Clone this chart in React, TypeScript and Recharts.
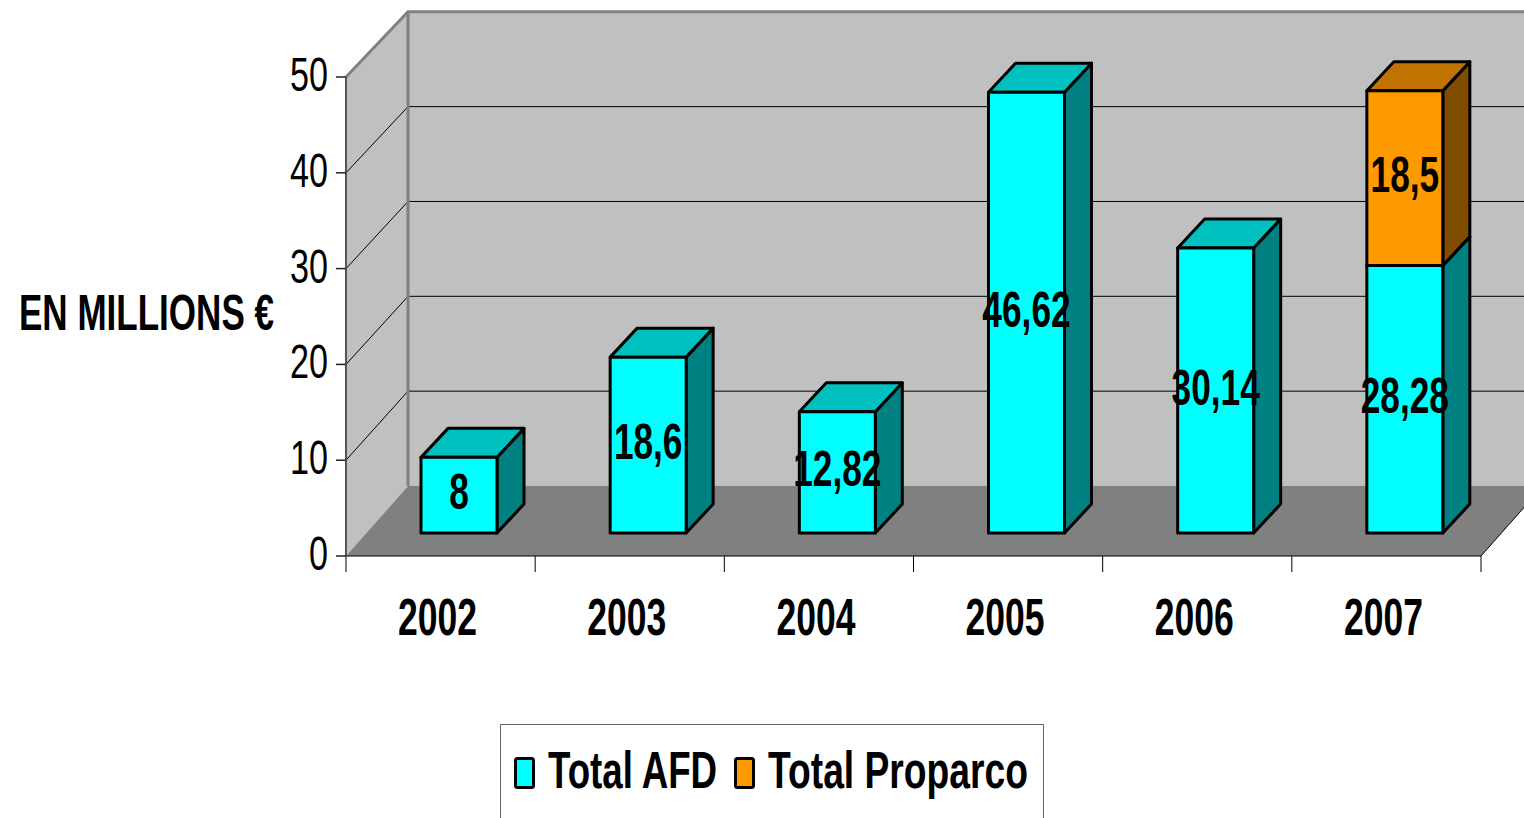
import React from 'react';
import { BarChart, Bar, XAxis, YAxis, Legend, LabelList } from 'recharts';

// values (millions of euros)
const years = ['2002', '2003', '2004', '2005', '2006', '2007'];
const totalAfd = [8, 18.6, 12.82, 46.62, 30.14, 28.28];
const totalProparco = [null, null, null, null, null, 18.5];
const yTicks = [0, 10, 20, 30, 40, 50];
const seriesNames = ['Total AFD', 'Total Proparco'];
const axisTitle = 'EN MILLIONS €';

const data = years.map((year, i) => ({ year, afd: totalAfd[i], proparco: totalProparco[i] }));

const W = 1524;
const H = 818;
const LEFT = 346;
const RIGHT = 1481;
const TOP = 77;
const BOTTOM = 556;
const Y_MAX = yTicks[yTicks.length - 1];

// fake 3D projection (wall depth + bar depth)
const WALL_DX = 62;
const WALL_DY = -70;
const WALL_SCALE = 0.99;
const BAR_DX = 18;
const BAR_DY = -23;
const BAR_SCALE = 0.987;
const DEPTH_DX = 27;
const DEPTH_DY = -29;

const FONT = "'Liberation Sans Narrow', 'Arial Narrow', 'Liberation Sans', Arial, sans-serif";

const COLORS = {
  afd: { front: '#00FFFF', top: '#00C0C0', side: '#008080' },
  proparco: { front: '#FF9900', top: '#C07300', side: '#7F4C00' },
};

const frontY = (v: number) => BOTTOM - (v / Y_MAX) * (BOTTOM - TOP);
const backY = (v: number) => BOTTOM + WALL_DY + (frontY(v) - BOTTOM) * WALL_SCALE;
const barY = (py: number) => BOTTOM + BAR_DY + (py - BOTTOM) * BAR_SCALE;

// narrow bold digits, forced via textLength
const numWidth = (s: string, digit: number) =>
  s.split('').reduce((w, c) => w + (c === ',' ? digit * 0.48 : digit), 0);

const fmt = (v: number) => String(v).replace('.', ',');

function make3DBar(colors: { front: string; top: string; side: string }) {
  return (props: any) => {
    const { x, y, width, height } = props;
    if (!height || height <= 0) return <g />;
    const x0 = x + BAR_DX;
    const x1 = x0 + width;
    const yt = barY(y);
    const yb = barY(y + height);
    const topPts = `${x0},${yt} ${x1},${yt} ${x1 + DEPTH_DX},${yt + DEPTH_DY} ${x0 + DEPTH_DX},${yt + DEPTH_DY}`;
    const sidePts = `${x1},${yt} ${x1 + DEPTH_DX},${yt + DEPTH_DY} ${x1 + DEPTH_DX},${yb + DEPTH_DY} ${x1},${yb}`;
    return (
      <g stroke="#000" strokeWidth={3} strokeLinejoin="round">
        <polygon points={sidePts} fill={colors.side} />
        <polygon points={topPts} fill={colors.top} />
        <rect x={x0} y={yt} width={width} height={yb - yt} fill={colors.front} />
      </g>
    );
  };
}

const ValueLabel = (props: any) => {
  const { x, y, width, height, value } = props;
  if (value == null || !height) return null;
  const yt = barY(y);
  const yb = barY(y + height);
  const s = fmt(value);
  return (
    <text
      x={x + BAR_DX + width / 2}
      y={(yt + yb) / 2 + 14}
      textAnchor="middle"
      fontFamily={FONT}
      fontWeight="bold"
      fontSize={50}
      fill="#000"
      textLength={numWidth(s, 19.7)}
      lengthAdjust="spacingAndGlyphs"
    >
      {s}
    </text>
  );
};

const YTick = (props: any) => {
  const { x, y, payload } = props;
  const s = String(payload.value);
  return (
    <text x={x} y={y + 14} textAnchor="end" fontFamily={FONT} fontSize={49} fill="#000"
      textLength={numWidth(s, 19)} lengthAdjust="spacingAndGlyphs">
      {s}
    </text>
  );
};

const XTick = (props: any) => {
  const { x, y, payload } = props;
  const s = String(payload.value);
  return (
    <text x={x - 3} y={y + 79} textAnchor="middle" fontFamily={FONT} fontWeight="bold" fontSize={51} fill="#000"
      textLength={numWidth(s, 19.75)} lengthAdjust="spacingAndGlyphs">
      {s}
    </text>
  );
};

// smaller font stretched vertically so the title keeps clear of the tick labels
const AxisTitle = () => (
  <text transform="translate(19,330) scale(1,1.17)" x={0} y={0} fontFamily={FONT} fontWeight="bold" fontSize={42} fill="#000"
    textLength={255} lengthAdjust="spacingAndGlyphs">
    {axisTitle}
  </text>
);

const legendTextWidths = [169, 260];

const LegendBox = (props: any) => {
  const payload = props.payload || [];
  let cx = 13;
  const items = payload.map((p: any, i: number) => {
    const sx = cx;
    const tx = sx + 34;
    const tw = legendTextWidths[i] || 200;
    cx = tx + tw + 17;
    return (
      <g key={i}>
        <rect x={sx + 1.5} y={33.5} width={18} height={29} rx={2} fill={p.color} stroke="#000" strokeWidth={3} />
        <text x={tx} y={63} fontFamily={FONT} fontWeight="bold" fontSize={52} fill="#000"
          textLength={tw} lengthAdjust="spacingAndGlyphs">
          {p.value}
        </text>
      </g>
    );
  });
  return (
    <div style={{ width: 544, height: 100, boxSizing: 'border-box', border: '1px solid #666', background: '#fff' }}>
      <svg width={542} height={98} style={{ display: 'block', overflow: 'visible' }}>
        {items}
      </svg>
    </div>
  );
};

function Walls() {
  const bx = LEFT + WALL_DX;
  const gridVals = yTicks.filter(v => v > 0 && v < Y_MAX);
  const band = (RIGHT - LEFT) / years.length;
  return (
    <svg width={W} height={H} style={{ position: 'absolute', left: 0, top: 0 }}>
      <rect x={bx} y={backY(Y_MAX)} width={W} height={backY(0) - backY(Y_MAX)} fill="#C0C0C0" />
      <polygon points={`${LEFT},${frontY(Y_MAX)} ${bx},${backY(Y_MAX)} ${bx},${backY(0)} ${LEFT},${frontY(0)}`} fill="#C0C0C0" />
      <polygon points={`${LEFT},${BOTTOM} ${bx},${backY(0)} ${RIGHT + WALL_DX},${backY(0)} ${RIGHT},${BOTTOM}`} fill="#808080" />
      {gridVals.map(v => (
        <g key={v} stroke="#000" strokeWidth={1}>
          <line x1={bx} y1={backY(v)} x2={W} y2={backY(v)} />
          <line x1={LEFT} y1={frontY(v)} x2={bx} y2={backY(v)} />
        </g>
      ))}
      <g stroke="#808080" strokeWidth={3} fill="none">
        <polyline points={`${LEFT},${frontY(Y_MAX)} ${bx},${backY(Y_MAX)} ${W},${backY(Y_MAX)}`} />
        <line x1={bx} y1={backY(Y_MAX)} x2={bx} y2={backY(0)} />
      </g>
      <line x1={RIGHT} y1={BOTTOM} x2={RIGHT + WALL_DX} y2={backY(0)} stroke="#000" strokeWidth={1} />
      {years.map((_, i) => i).concat([years.length]).map(i => (
        <line key={i} x1={LEFT + i * band} y1={BOTTOM} x2={LEFT + i * band} y2={BOTTOM + 16} stroke="#000" strokeWidth={1} />
      ))}
    </svg>
  );
}

export default function App() {
  const Y_AXIS_W = 60;
  const X_AXIS_H = 60;
  return (
    <div style={{ position: 'absolute', left: 0, top: 0, width: W, height: H, overflow: 'hidden', background: '#fff' }}>
      <Walls />
      <div style={{ position: 'absolute', left: 0, top: 0 }}>
        <BarChart
          width={W}
          height={H}
          data={data}
          barSize={76}
          margin={{ top: TOP, right: W - RIGHT, bottom: H - BOTTOM - X_AXIS_H, left: LEFT - Y_AXIS_W }}
        >
          <XAxis
            dataKey="year"
            height={X_AXIS_H}
            tickSize={0}
            tickMargin={0}
            tickLine={false}
            axisLine={{ stroke: '#000', strokeWidth: 1 }}
            tick={<XTick />}
          />
          <YAxis
            width={Y_AXIS_W}
            domain={[0, Y_MAX]}
            ticks={yTicks}
            tickSize={10}
            tickMargin={8}
            axisLine={{ stroke: '#555', strokeWidth: 2 }}
            tickLine={{ stroke: '#222', strokeWidth: 1.5 }}
            tick={<YTick />}
            label={{ content: () => <AxisTitle /> }}
          />
          <Legend
            layout="horizontal"
            verticalAlign="middle"
            align="center"
            wrapperStyle={{ position: 'absolute', left: 500, top: 724, width: 544, height: 100 }}
            content={<LegendBox />}
          />
          <Bar dataKey="afd" name={seriesNames[0]} stackId="a" fill={COLORS.afd.front}
            shape={make3DBar(COLORS.afd)} isAnimationActive={false}>
            <LabelList dataKey="afd" content={<ValueLabel />} />
          </Bar>
          <Bar dataKey="proparco" name={seriesNames[1]} stackId="a" fill={COLORS.proparco.front}
            shape={make3DBar(COLORS.proparco)} isAnimationActive={false}>
            <LabelList dataKey="proparco" content={<ValueLabel />} />
          </Bar>
        </BarChart>
      </div>
    </div>
  );
}
